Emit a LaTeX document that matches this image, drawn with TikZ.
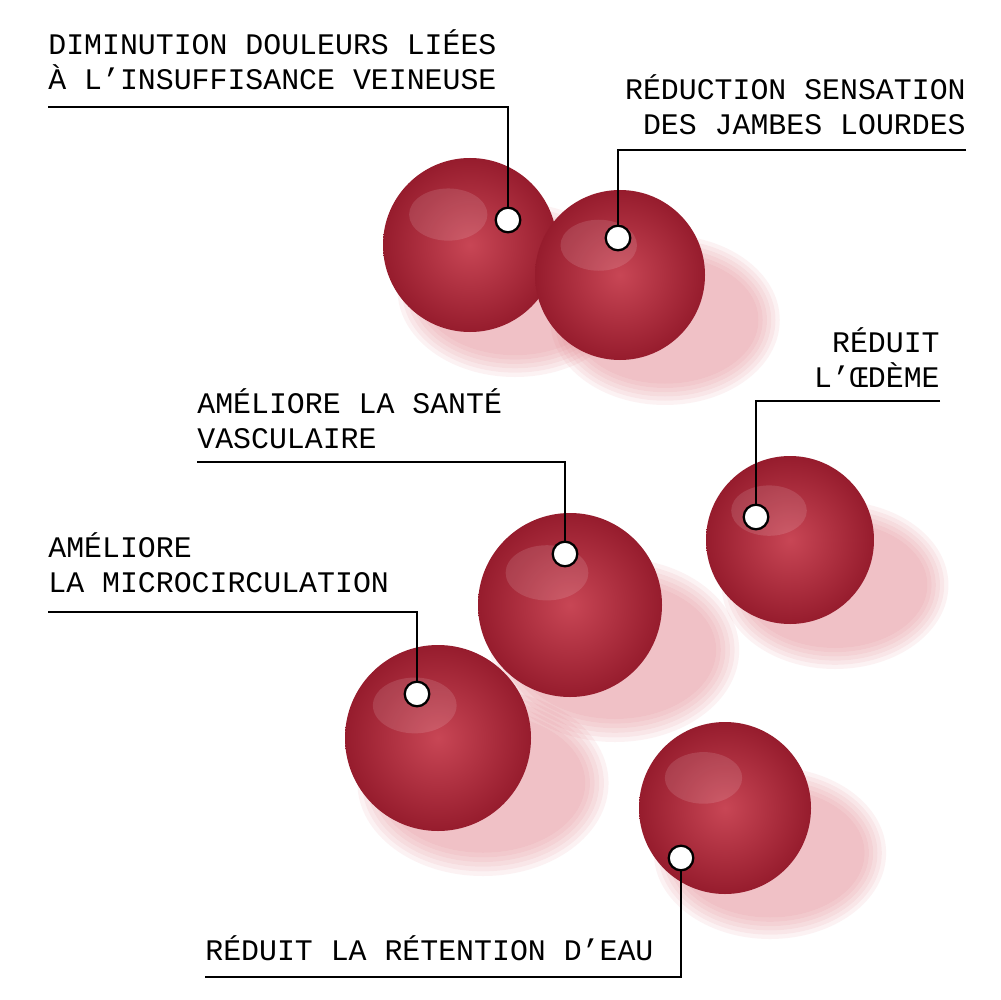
\documentclass[tikz,border=0pt]{standalone}
\usepackage{fontspec}
\setmonofont{Liberation Mono}
\usetikzlibrary{positioning}
\definecolor{gumdark}{RGB}{150,28,45}
\definecolor{gumlight}{RGB}{200,70,85}
\definecolor{gumshadow}{RGB}{225,120,130}
\tikzset{
  label/.style={font=\ttfamily\fontsize{17}{19.9}\selectfont, inner sep=0pt},
  leader/.style={line width=1.3pt, black},
  pin/.style={circle, draw=black, line width=1.3pt, fill=white, minimum size=14pt, inner sep=0pt},
}
\newcommand{\gummy}[4]{%
  % shadow
  \foreach \k in {1,...,6}
    \fill[gumshadow, opacity=0.09] ({#1+#4*0.45},{#2+#4*0.45}) ellipse ({#3*(1.05+0.05*\k)} and {#3*(0.7+0.05*\k)});
  % body
  \shade[inner color=gumlight, outer color=gumdark] (#1,#2) circle (#3);
  \fill[white, opacity=0.12] ({#1-#3*0.25},{#2-#3*0.35}) ellipse ({#3*0.45} and {#3*0.3});
}
\begin{document}
\begin{tikzpicture}[x=0.02cm, y=-0.02cm]
\useasboundingbox (0,0) rectangle (1000,1000);
\fill[white] (0,0) rectangle (1000,1000);

\gummy{470}{245}{87}{100}
\gummy{620}{275}{85}{100}
\gummy{790}{540}{84}{100}
\gummy{570}{605}{92}{100}
\gummy{438}{738}{93}{100}
\gummy{725}{808}{86}{100}

\node[label, anchor=west, align=left] (veine) at (48,60) {DIMINUTION DOULEURS LIÉES\\À L’INSUFFISANCE VEINEUSE};
\node[label, anchor=east, align=right] (jambes) at (966,105) {RÉDUCTION SENSATION\\DES JAMBES LOURDES};
\node[label, anchor=east, align=right] (oedeme) at (940,358) {RÉDUIT\\L’ŒDÈME};
\node[label, anchor=west, align=left] (sante) at (197,419) {AMÉLIORE LA SANTÉ\\VASCULAIRE};
\node[label, anchor=west, align=left] (micro) at (48,563) {AMÉLIORE\\LA MICROCIRCULATION};
\node[label, anchor=west] (eau) at (205,948) {RÉDUIT LA RÉTENTION D’EAU};

\node[pin] (p1) at (508,220) {};
\node[pin] (p2) at (618,238) {};
\node[pin] (p3) at (756,517) {};
\node[pin] (p4) at (565,554) {};
\node[pin] (p5) at (417,694) {};
\node[pin] (p6) at (681,858) {};

\coordinate (c1) at (48,107);
\coordinate (c2) at (966,150);
\coordinate (c3) at (940,401);
\coordinate (c4) at (197,462);
\coordinate (c5) at (48,612);
\coordinate (c6) at (205,977);

\draw[leader] (c1) -| (p1);
\draw[leader] (c2) -| (p2);
\draw[leader] (c3) -| (p3);
\draw[leader] (c4) -| (p4);
\draw[leader] (c5) -| (p5);
\draw[leader] (c6) -| (p6);
\end{tikzpicture}
\end{document}
